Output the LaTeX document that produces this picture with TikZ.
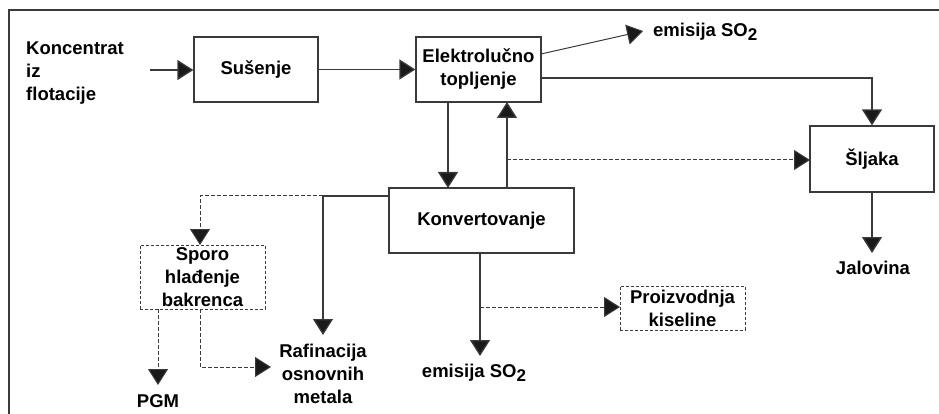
\documentclass[tikz,border=0pt]{standalone}
\usepackage{fontspec}
\setmainfont{Liberation Sans}
\usetikzlibrary{arrows.meta}
\definecolor{ln}{HTML}{3A3A3A}
\definecolor{tip}{HTML}{1A1A1A}
\tikzset{
  txt/.style={font=\bfseries\fontsize{18.5}{23}\selectfont, inner sep=0pt, align=center, text=black},
  box/.style={txt, draw=ln, line width=1.2pt},
  dbox/.style={box, dash pattern=on 3pt off 2pt, line width=1pt},
  arr/.style={draw=ln, line width=1.3pt, -{Triangle[length=16pt,width=20pt,fill=tip]}},
  darr/.style={arr, line width=1pt, dash pattern=on 4pt off 2pt},
  ln/.style={draw=ln, line width=1.3pt}
}
\newcommand{\sotwo}{SO\raisebox{-4pt}{\fontsize{17}{17}\selectfont 2}}
\begin{document}
\begin{tikzpicture}[x=1pt,y=-1pt]
\useasboundingbox (0,0) rectangle (939,414);
\draw[ln, line width=1.3pt] (9,414) -- (9,10) -- (939,10);

% boxes
\node[box, minimum width=124pt, minimum height=65pt] (Sus) at (256,69.5) {Sušenje};
\node[box, minimum width=125pt, minimum height=65pt] (Elek) at (478.5,69.5) {Elektrolučno\\topljenje};
\node[box, minimum width=185pt, minimum height=65pt] (Konv) at (481.5,220.5) {Konvertovanje};
\node[box, minimum width=124pt, minimum height=66pt] (Slj) at (872,159) {Šljaka};
\node[dbox, minimum width=125pt, minimum height=64pt] (Spo) at (202.5,277) {Sporo\\hlađenje\\bakrenca};
\node[dbox, minimum width=125pt, minimum height=44pt] (Pro) at (682.5,308) {Proizvodnja\\kiseline};

% text
\node[txt, align=left, anchor=west] (Kon) at (26,73.5) {Koncentrat\\iz\\flotacije};
\node[txt, anchor=west] (Em1) at (653,32) {emisija \sotwo};
\node[txt] (PGM) at (158,401) {PGM};
\node[txt] (Raf) at (323,374) {Rafinacija\\osnovnih\\metala};
\node[txt] (Em2) at (474,373) {emisija \sotwo};
\node[txt] (Jal) at (873,268) {Jalovina};

% coordinates
\coordinate (k0) at (150,70);
\coordinate (e0) at (541,54);
\coordinate (e1) at (643,31);
\coordinate (s0) at (541,78);
\coordinate (s1) at (872,78);
\coordinate (d0) at (448,102);
\coordinate (d1) at (448,188);
\coordinate (u0) at (507,188);
\coordinate (u1) at (507,102);
\coordinate (h0) at (507,160);
\coordinate (h1) at (810,160);
\coordinate (l0) at (389,196);
\coordinate (l1) at (323,196);
\coordinate (l2) at (323,335);
\coordinate (m1) at (200,196);
\coordinate (m2) at (200,245);
\coordinate (p0) at (158,309);
\coordinate (p1) at (158,385);
\coordinate (q0) at (200,309);
\coordinate (q1) at (200,367);
\coordinate (q2) at (271,367);
\coordinate (b0) at (480,253);
\coordinate (b1) at (480,356);
\coordinate (c0) at (480,307);
\coordinate (c1) at (620,307);
\coordinate (j0) at (872,192);
\coordinate (j1) at (872,253);

% connectors
\draw[arr] (k0) -- (Sus.west |- k0);
\draw[arr] (Sus.east) -- (Elek.west);
\draw[arr, line width=1pt] (e0) -- (e1);
\draw[arr] (s0) -- (s1) -- (Slj.north);
\draw[arr] (d0) -- (d1);
\draw[arr] (u0) -- (u1);
\draw[darr] (h0) -- (h1);
\draw[arr] (l0) -- (l1) -- (l2);
\draw[darr] (l1) -- (m1) -- (m2);
\draw[darr] (p0) -- (p1);
\draw[darr] (q0) -- (q1) -- (q2);
\draw[arr] (b0) -- (b1);
\draw[darr] (c0) -- (c1);
\draw[arr] (j0) -- (j1);
\end{tikzpicture}
\end{document}
